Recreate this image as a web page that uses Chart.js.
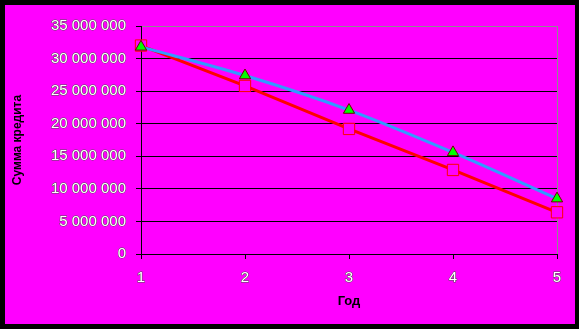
<!DOCTYPE html>
<html>
<head>
<meta charset="utf-8">
<script src="https://cdn.jsdelivr.net/npm/chart.js@4/dist/chart.umd.min.js"></script>
<style>
    body { margin: 0; background: #000; }
    #wrap { position: relative; width: 579px; height: 329px; background: #000; }
    #myChart { position: absolute; left: 5px; top: 5px; background: #FF00FF; }
</style>
</head>
<body>
<div id="wrap">
    <canvas id="myChart" width="570" height="319"></canvas>
</div>
<script>
// data
const years = ['1', '2', '3', '4', '5'];
const blueSeries = [31800000, 27400000, 22100000, 15600000, 8500000];
const redSeries = [32000000, 25800000, 19200000, 12900000, 6400000];
const yTicks = [0, 5000000, 10000000, 15000000, 20000000, 25000000, 30000000, 35000000];

function spaced(v) {
    return v.toString().replace(/\B(?=(\d{3})+(?!\d))/g, ' ');
}

const tickFont = { family: 'Arial, "Liberation Sans"', size: 15 };

const ctx = document.getElementById('myChart');

new Chart(ctx, {
    type: 'line',
    data: {
        labels: years,
        datasets: [{
            label: 'blue',
            data: blueSeries,
            borderColor: '#3399FF',
            borderWidth: 3,
            cubicInterpolationMode: 'monotone',
            pointStyle: 'triangle',
            pointRadius: 6.5,
            pointBackgroundColor: '#00FF00',
            pointBorderColor: '#700000',
            pointBorderWidth: 1
        },
        {
            label: 'red',
            data: redSeries,
            borderColor: '#FF0000',
            borderWidth: 3,
            tension: 0,
            pointStyle: 'rect',
            pointRadius: 8,
            pointBackgroundColor: '#FF00FF',
            pointBorderColor: '#FF0000',
            pointBorderWidth: 1
        }
        ],
    },
    options: {
        responsive: false,
        animation: false,
        layout: { padding: { top: 21, right: 18, left: 0, bottom: 0 } },
        plugins: {
            legend: { display: false },
            tooltip: { enabled: false }
        },
        scales: {
            x: {
                offset: false,
                afterFit: function (s) { s.height = 70; },
                border: { color: '#000', width: 1 },
                grid: {
                    color: c => c.index === 4 ? '#8c8c8c' : 'rgba(0,0,0,0)',
                    tickColor: '#000',
                    tickLength: 5
                },
                ticks: {
                    font: tickFont,
                    color: '#fff',
                    textStrokeColor: '#505050',
                    textStrokeWidth: 1,
                    padding: 10,
                    maxRotation: 0
                },
                title: {
                    display: true,
                    text: 'Год',
                    color: '#000',
                    font: { family: 'Arial, "Liberation Sans"', size: 13, weight: 'bold' },
                    padding: { top: 0, bottom: 15 }
                }
            },
            y: {
                min: 0,
                max: 35000000,
                afterFit: function (s) { s.width = 136; },
                afterBuildTicks: function (s) { s.ticks = yTicks.map(v => ({ value: v })); },
                border: { color: '#000', width: 1 },
                grid: {
                    color: c => c.tick && c.tick.value === 35000000 ? '#8c8c8c' : '#000',
                    tickColor: '#000',
                    tickLength: 5
                },
                ticks: {
                    font: tickFont,
                    color: '#fff',
                    textStrokeColor: '#505050',
                    textStrokeWidth: 1,
                    padding: 10,
                    callback: v => spaced(v)
                },
                title: {
                    display: true,
                    text: 'Сумма кредита',
                    color: '#000',
                    font: { family: 'Arial, "Liberation Sans"', size: 12, weight: 'bold' },
                    padding: { top: 5, bottom: 0 }
                }
            }
        }
    }
});
</script>
</body>
</html>
